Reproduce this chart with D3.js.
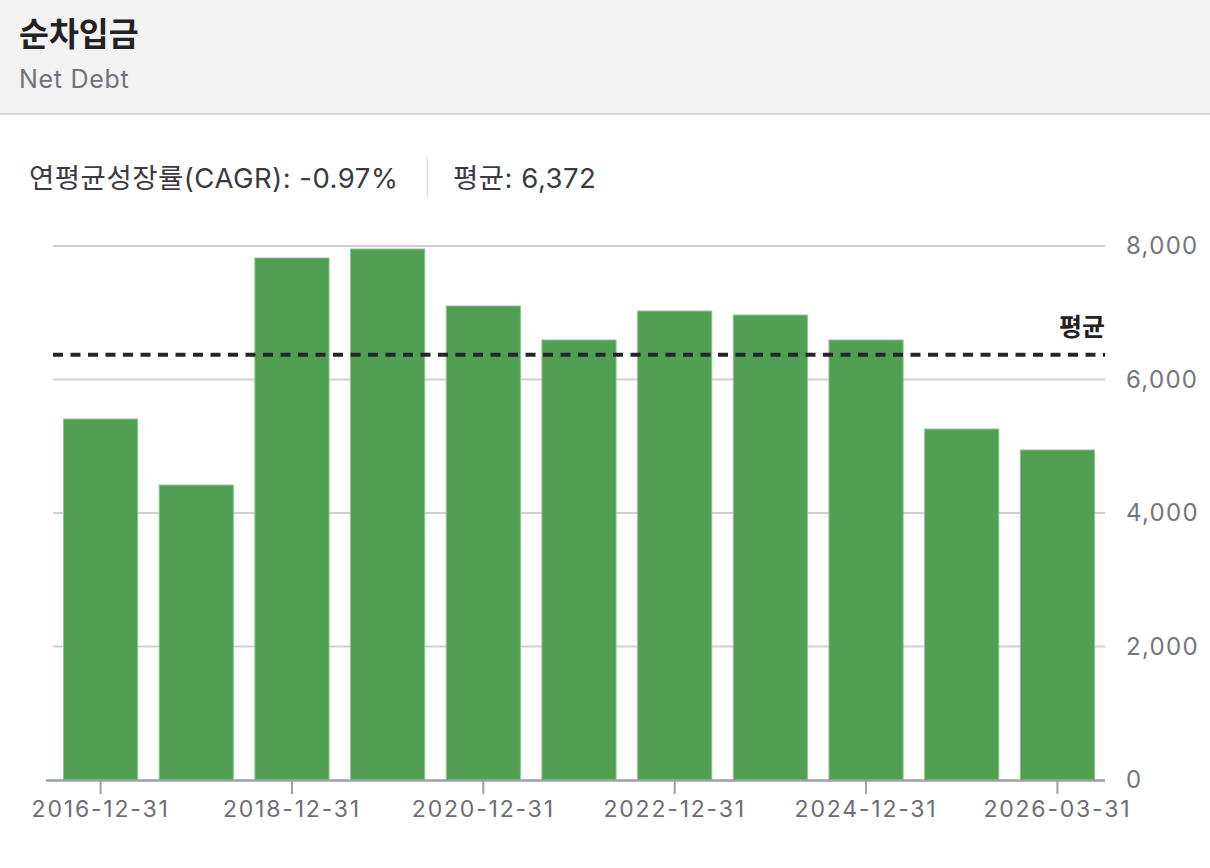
<!DOCTYPE html>
<html lang="ko">
<head>
<meta charset="utf-8">
<script src="https://cdn.jsdelivr.net/npm/d3@7.9.0/dist/d3.min.js"></script>
<style>
  html, body { margin: 0; padding: 0; background: #fff; }
  body { width: 1210px; height: 868px; overflow: hidden; font-family: Inter, "Noto Sans CJK KR", sans-serif; }
  svg { display: block; }
</style>
</head>
<body>
<svg id="chart" width="1210" height="868"></svg>
<script>
// ---------- Data ----------
const periods = ['2016-12-31', '2017-12-31', '2018-12-31', '2019-12-31', '2020-12-31', '2021-12-31',
  '2022-12-31', '2023-12-31', '2024-12-31', '2025-12-31', '2026-03-31'];
const netDebt = [5408, 4419, 7820, 7955, 7101, 6592, 7026, 6966, 6592, 5258, 4944];
const yTicks = [0, 2000, 4000, 6000, 8000];
const xLabelled = ['2016-12-31', '2018-12-31', '2020-12-31', '2022-12-31', '2024-12-31', '2026-03-31'];
const average = 6372;
const cagrText = '연평균성장률(CAGR): -0.97%';
const avgText = '평균: 6,372';

const data = periods.map((p, i) => ({ period: p, value: netDebt[i] }));

const svg = d3.select('#chart');
const font = 'Inter, "Noto Sans CJK KR", sans-serif';

// ---------- Header ----------
svg.append('rect').attr('x', 0).attr('y', 0).attr('width', 1210).attr('height', 114).attr('fill', '#f3f3f3');
svg.append('rect').attr('x', 0).attr('y', 113).attr('width', 1210).attr('height', 2).attr('fill', '#d6d6da');
svg.append('text').attr('x', 19).attr('y', 46)
  .attr('font-family', '"Noto Sans CJK KR", sans-serif').attr('font-weight', 700)
  .attr('font-size', 32.5).attr('fill', '#222').text('순차입금');
svg.append('text').attr('x', 19).attr('y', 88)
  .attr('font-family', font).attr('font-size', 25).attr('letter-spacing', 0.7)
  .attr('fill', '#72727a').text('Net Debt');

// ---------- Stats ----------
const statsY = 188;
svg.append('text').attr('x', 29).attr('y', statsY)
  .attr('font-family', font).attr('font-size', 27.5).attr('letter-spacing', 0.5).attr('fill', '#3a3a40')
  .text(cagrText);
svg.append('line').attr('x1', 427.5).attr('x2', 427.5).attr('y1', 157).attr('y2', 197)
  .attr('stroke', '#dedee2').attr('stroke-width', 1.5);
svg.append('text').attr('x', 453).attr('y', statsY)
  .attr('font-family', font).attr('font-size', 27.5).attr('letter-spacing', 0.5).attr('fill', '#3a3a40')
  .text(avgText);

// ---------- Scales ----------
const plot = { left: 53, right: 1105, top: 246, bottom: 780 };
const x = d3.scaleBand().domain(periods).range([plot.left, plot.right]).paddingInner(0.225).paddingOuter(0.11);
const y = d3.scaleLinear().domain([0, 8000]).range([plot.bottom, plot.top]);

// Gridlines
svg.append('g').selectAll('line').data(yTicks.filter(d => d > 0)).join('line')
  .attr('x1', plot.left).attr('x2', plot.right)
  .attr('y1', d => y(d)).attr('y2', d => y(d))
  .attr('stroke', '#cfcfd2').attr('stroke-width', 2);

// Y axis (right side labels)
const yAxis = svg.append('g').attr('transform', `translate(${plot.right},0)`)
  .call(d3.axisRight(y).tickValues(yTicks).tickSize(0).tickPadding(21).tickFormat(d3.format(',')));
yAxis.select('.domain').remove();
yAxis.selectAll('text').attr('font-family', font).attr('font-size', 24).attr('letter-spacing', 1.3).attr('fill', '#75757d');

// Bars
svg.append('g').selectAll('rect').data(data).join('rect')
  .attr('x', d => x(d.period))
  .attr('y', d => y(d.value))
  .attr('width', x.bandwidth())
  .attr('height', d => y(0) - y(d.value))
  .attr('fill', '#509f53')
  .attr('stroke', '#8cc48f').attr('stroke-width', 1);

// X axis
const xAxis = svg.append('g').attr('transform', `translate(0,${plot.bottom})`)
  .call(d3.axisBottom(x).tickValues(xLabelled).tickSizeInner(14).tickSizeOuter(0).tickPadding(7));
xAxis.select('.domain').attr('d', `M${plot.left - 7},0.5H${plot.right}`).attr('stroke', '#9c9ea8').attr('stroke-width', 2.5);
xAxis.selectAll('.tick line').attr('stroke', '#9c9ea8').attr('stroke-width', 2);
xAxis.selectAll('text').attr('font-family', font).attr('font-size', 23).attr('letter-spacing', 1.8).attr('fill', '#6d6d75');

// Average line
svg.append('line')
  .attr('x1', plot.left).attr('x2', plot.right)
  .attr('y1', y(average)).attr('y2', y(average))
  .attr('stroke', '#262628').attr('stroke-width', 4).attr('stroke-dasharray', '10 7.5');
svg.append('text').attr('x', plot.right).attr('y', y(average) - 19)
  .attr('text-anchor', 'end')
  .attr('font-family', '"Noto Sans CJK KR", sans-serif').attr('font-weight', 700)
  .attr('font-size', 25).attr('fill', '#222').text('평균');
</script>
</body>
</html>
